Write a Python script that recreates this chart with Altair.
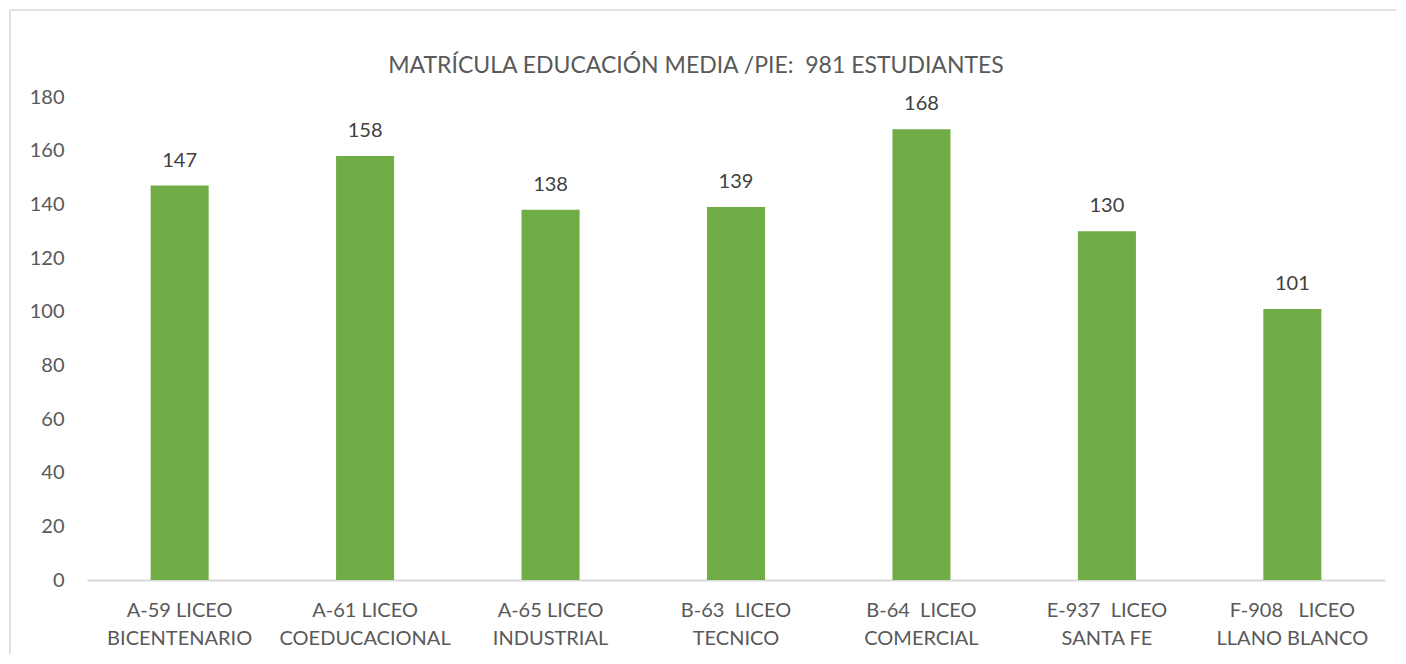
import altair as alt
import pandas as pd

NB = "\u00a0"
categories = [
    "A-59 LICEO\nBICENTENARIO",
    "A-61 LICEO\nCOEDUCACIONAL",
    "A-65 LICEO\nINDUSTRIAL",
    "B-63" + NB + " LICEO\nTECNICO",
    "B-64" + NB + " LICEO\nCOMERCIAL",
    "E-937" + NB + " LICEO\nSANTA FE",
    "F-908" + NB + NB + " LICEO\nLLANO BLANCO",
]
values = [147, 158, 138, 139, 168, 130, 101]
title_text = "MATRÍCULA EDUCACIÓN MEDIA /PIE:" + NB + " 981 ESTUDIANTES"

df = pd.DataFrame({"cat": categories, "val": values})

FONT = "Lato"
GREY = "#595959"

W, H = 1298, 483

one = pd.DataFrame({"t": [title_text]})

border = alt.Chart(one).mark_rect(
    fill=None, stroke="#d9d9d9", strokeWidth=1.5, clip=False
).encode(
    x=alt.value(-77), x2=alt.value(W + 60), y=alt.value(-87), y2=alt.value(H + 200)
)

title = alt.Chart(one).mark_text(
    font=FONT, fontSize=23, color=GREY, baseline="middle", align="center"
).encode(x=alt.value(609), y=alt.value(-31), text="t:N")

base = alt.Chart(df).encode(
    x=alt.X(
        "cat:N",
        sort=categories,
        title=None,
        scale=alt.Scale(paddingInner=0.687, paddingOuter=0.343),
        axis=alt.Axis(
            labelExpr="split(datum.label, '\\n')",
            labelAngle=0,
            labelFont=FONT,
            labelFontSize=20,
            labelColor=GREY,
            labelLineHeight=28,
            labelPadding=20,
            ticks=False,
            domainColor="#d9d9d9",
            domainWidth=2,
        ),
    ),
    y=alt.Y(
        "val:Q",
        title=None,
        scale=alt.Scale(domain=[0, 180]),
        axis=alt.Axis(
            values=list(range(0, 181, 20)),
            grid=False,
            domain=False,
            ticks=False,
            labelFont=FONT,
            labelFontSize=20,
            labelColor=GREY,
            labelPadding=23,
        ),
    ),
)

bars = base.mark_bar(color="#70AD47")
labels = base.mark_text(
    baseline="bottom", dy=-15, font=FONT, fontSize=20, color="#404040"
).encode(text="val:Q")

chart = (
    alt.layer(border, title, bars, labels)
    .properties(
        width=W,
        height=H,
        autosize=alt.AutoSizeParams(type="none"),
        padding={"left": 79, "top": 89, "right": 11, "bottom": 74},
    )
    .configure_view(stroke=None)
)

chart.save("out.html", embed_options={"renderer": "svg", "actions": False})
